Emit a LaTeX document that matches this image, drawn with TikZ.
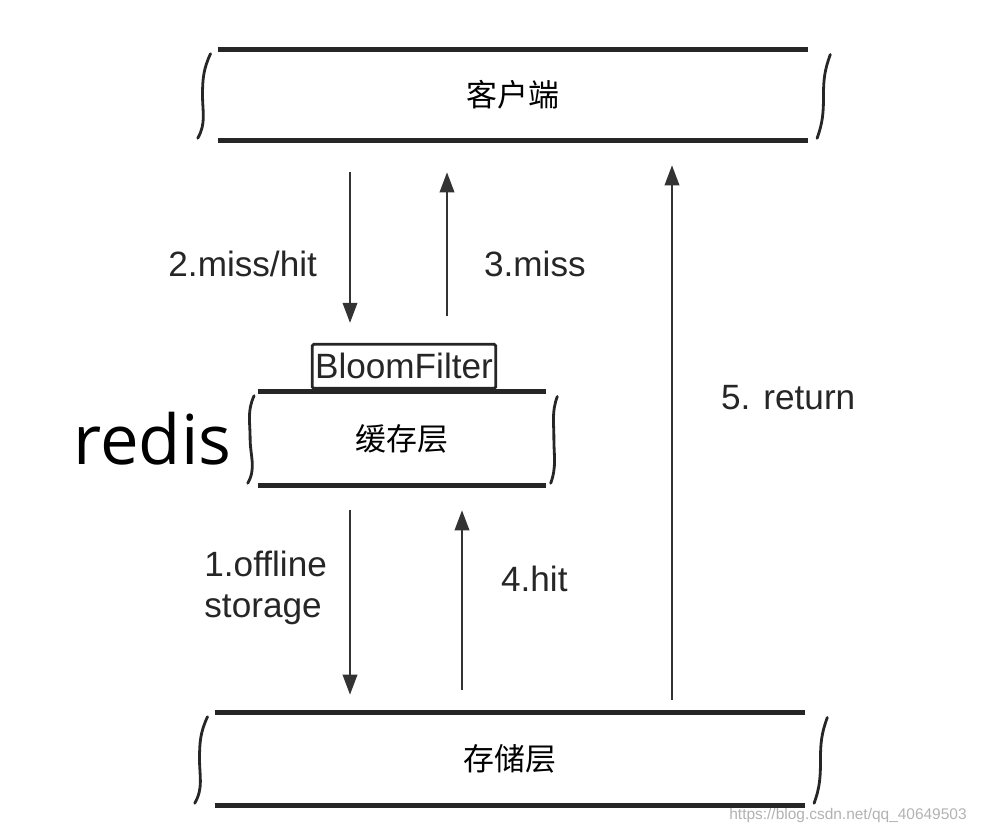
\documentclass[tikz,border=0pt]{standalone}
\usepackage{fontspec}
\setmainfont{Liberation Sans}
\newfontfamily\cjkfont{Noto Sans CJK SC}
\newfontfamily\redisfont{Open Sans}
\usetikzlibrary{calc,positioning,arrows.meta}

\begin{document}
\begin{tikzpicture}[
            node distance=3mm,
            layer/.style={minimum height=2.3cm,inner sep=0pt,font=\cjkfont\fontsize{22}{22}\selectfont},
            bar/.style={line width=3.4pt,black!85},
            brace/.style={line width=2pt,black!85,line cap=round},
            flow/.style={-{Triangle[length=5mm,width=3.6mm]},line width=1.6pt,black!80},
            lbl/.style={inner sep=0pt,font=\fontsize{25}{29}\selectfont,black!85}
        ]
            \useasboundingbox (0,0) rectangle (24.6,20.85);

            \node (csdn) [text=black!30,font=\fontsize{11}{11}\selectfont] at (21.2,0.45) {https://blog.csdn.net/qq\_40649503};

            \node (client) [layer,minimum width=14.75cm,minimum height=2.25cm] at (12.825,18.475) {客户端};
            \node (cache)  [layer,minimum width=7.2cm,minimum height=2.325cm]  at (10.05,9.8875)  {缓存层};
            \node (store)  [layer,minimum width=14.75cm]                       at (12.75,1.875)   {存储层};
            \node (bloom)  [above=0.05cm of cache,xshift=0.05cm,draw,line width=2pt,black!85,rounded corners=1pt,inner sep=2pt,minimum height=1.1cm,font=\fontsize{25}{25}\selectfont] {BloomFilter};
            \node (redis)  [left=0.65cm of cache,inner sep=0pt,font=\redisfont\fontsize{49}{49}\selectfont] {redis};

            \foreach \n/\s in {client/1,cache/0.5,store/1} {
                \draw [bar] (\n.north west) -- (\n.north east);
                \draw [bar] (\n.south west) -- (\n.south east);
                \draw [brace] ($(\n.north west)+(-0.18*\s,-0.1)$) to[out=-115,in=90] ($(\n.west)+(-0.38*\s,0)$) to[out=-90,in=60] ($(\n.south west)+(-0.5*\s,0.05)$);
                \draw [brace] ($(\n.north east)+(0.55*\s,-0.12)$) to[out=-110,in=90] ($(\n.east)+(0.38*\s,0)$) to[out=-90,in=70] ($(\n.south east)+(0.22*\s,0.05)$);
            }

            \coordinate (colA) at (8.75,0);
            \coordinate (colB) at (11.175,0);
            \coordinate (colC) at (11.55,0);
            \coordinate (colD) at (16.8,0);

            \draw [flow] ($(client.south -| colA)+(0,-0.8)$)  -- node[lbl,pos=0.61,left=0.8cm]  {2.miss/hit}              ($(bloom.north -| colA)+(0,0.5)$);
            \draw [flow] ($(bloom.north -| colB)+(0,0.675)$)  -- node[lbl,pos=0.36,right=0.9cm] {3.miss}                  ($(client.south -| colB)+(0,-0.8)$);
            \draw [flow] ($(cache.south -| colA)+(0,-0.625)$) -- node[lbl,pos=0.42,left=0.55cm,align=left] {1.offline\\storage} ($(store.north -| colA)+(0,0.45)$);
            \draw [flow] ($(store.north -| colC)+(0,0.575)$)  -- node[lbl,pos=0.62,right=0.95cm] {4.hit}                  ($(cache.south -| colC)+(0,-0.625)$);
            \draw [flow] ($(store.north -| colD)+(0,0.325)$)  -- node[lbl,pos=0.565,right=1.2cm] {5. return}              ($(client.south -| colD)+(0,-0.625)$);
        \end{tikzpicture}
\end{document}
